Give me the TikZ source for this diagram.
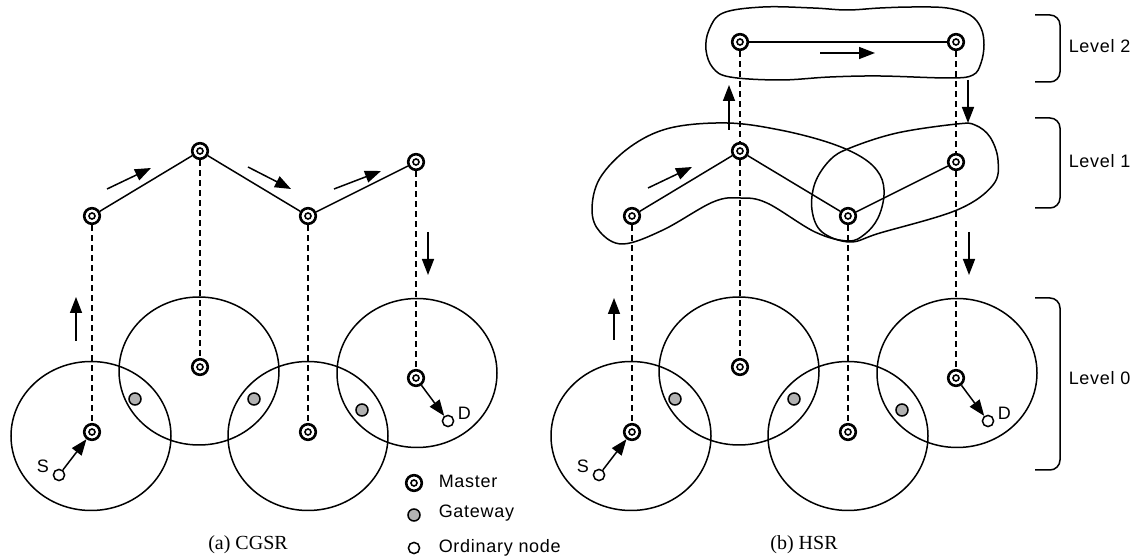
\documentclass[tikz,border=0pt]{standalone}
\usepackage{fontspec}
\setmainfont{Liberation Serif}
\newfontfamily\gulim[LetterSpace=4]{Liberation Sans}
\usetikzlibrary{arrows.meta}

\begin{document}
\begin{tikzpicture}[x={(0.5pt,0pt)}, y={(0pt,-0.5pt)}, >={Triangle[length=8pt,width=6pt]}, line width=0.75pt]
 \tikzstyle{master} = [circle,draw,fill=white,line width=1.3pt,inner sep=0,minimum size=7.8pt,
   path picture={\draw[line width=0.8pt] (path picture bounding box.center) circle (1.5pt);}]
 \tikzstyle{gateway} = [circle,draw,fill=black!30,inner sep=0,minimum size=6pt]
 \tikzstyle{ordinary} = [circle,draw,fill=white,inner sep=0,minimum size=5.6pt]
 \tikzstyle{vlink} = [dash pattern=on 3pt off 2pt]
 \tikzstyle{flow} = [->]
 \tikzstyle{lbl} = [font=\gulim\fontsize{9}{11}\selectfont,inner sep=0,anchor=base west]
 \tikzstyle{caption} = [font=\fontsize{10}{12}\selectfont,inner sep=0,anchor=base]
 \tikzstyle{brace} = [rounded corners=5pt]
 \newcommand{\hsrx}{540}

 \useasboundingbox (0,0) rectangle (1141,560);

% Clusters, CGSR
 \draw (91,436) ellipse [x radius=80, y radius=74.5];
 \draw (199,371) ellipse [x radius=80, y radius=74];
 \draw (308,436) ellipse [x radius=80, y radius=74.5];
 \draw (417,373) ellipse [x radius=80, y radius=74.5];
% Clusters, HSR
 \draw (\hsrx+91,436) ellipse [x radius=80, y radius=74.5];
 \draw (\hsrx+199,371) ellipse [x radius=80, y radius=74];
 \draw (\hsrx+308,436) ellipse [x radius=80, y radius=74.5];
 \draw (\hsrx+417,373) ellipse [x radius=80, y radius=74.5];

% Level 2 and level 1 groups
 \draw plot[smooth cycle,tension=0.6] coordinates {(706,50) (709,30) (723,13) (763,7) (813,8) (847,10)
   (880,8) (913,7) (947,8) (970,15) (981,28) (984,45) (981,63) (973,75) (950,78) (880,76) (830,77)
   (780,80) (730,77) (713,68)};
 \draw plot[smooth cycle,tension=0.6] coordinates {(670,128) (727,123) (780,130) (830,143) (863,158)
   (880,175) (884,195) (878,218) (865,234) (848,241) (815,232) (767,203) (740,198) (713,202)
   (663,230) (623,244) (600,232) (592,210) (600,178) (630,147)};
 \draw plot[smooth cycle,tension=0.6] coordinates {(830,160) (850,148) (897,133) (957,124) (975,125)
   (990,137) (998,160) (993,185) (957,210) (880,233) (850,242) (822,232) (812,210) (815,183)};

% CGSR nodes
 \node[master] (ca1) at (92,216) {};
 \node[master] (ca2) at (200,151) {};
 \node[master] (ca3) at (308,216) {};
 \node[master] (ca4) at (416,162) {};
 \node[master] (cb1) at (92,432) {};
 \node[master] (cb2) at (200,367) {};
 \node[master] (cb3) at (308,432) {};
 \node[master] (cb4) at (416,378) {};
 \node[gateway] (cg1) at (135,399) {};
 \node[gateway] (cg2) at (254,399) {};
 \node[gateway] (cg3) at (362,410) {};
 \node[ordinary] (cs) at (59,475) {};
 \node[ordinary] (cd) at (448,421) {};
 \node[lbl] (csl) at (36,473) {S};
 \node[lbl] (cdl) at (457,420) {D};

% HSR nodes
 \node[master] (h2a) at (\hsrx+200,42) {};
 \node[master] (h2b) at (\hsrx+416,42) {};
 \node[master] (h1a) at (\hsrx+92,216) {};
 \node[master] (h1b) at (\hsrx+200,151) {};
 \node[master] (h1c) at (\hsrx+308,216) {};
 \node[master] (h1d) at (\hsrx+416,162) {};
 \node[master] (h0a) at (\hsrx+92,432) {};
 \node[master] (h0b) at (\hsrx+200,367) {};
 \node[master] (h0c) at (\hsrx+308,432) {};
 \node[master] (h0d) at (\hsrx+416,378) {};
 \node[gateway] (hg1) at (\hsrx+135,399) {};
 \node[gateway] (hg2) at (\hsrx+254,399) {};
 \node[gateway] (hg3) at (\hsrx+362,410) {};
 \node[ordinary] (hs) at (\hsrx+59,475) {};
 \node[ordinary] (hd) at (\hsrx+448,421) {};
 \node[lbl] (hsl) at (\hsrx+36,473) {S};
 \node[lbl] (hdl) at (\hsrx+457,420) {D};

% Links
 \draw (ca1) -- (ca2) -- (ca3) -- (ca4);
 \draw[vlink] (ca1) -- (cb1);
 \draw[vlink] (ca2) -- (cb2);
 \draw[vlink] (ca3) -- (cb3);
 \draw[vlink] (ca4) -- (cb4);
 \draw[flow] (cs) -- (cb1);
 \draw[flow] (cb4) -- (cd);

 \draw (h2a) -- (h2b);
 \draw (h1a) -- (h1b) -- (h1c) -- (h1d);
 \draw[vlink] (h2a) -- (h1b);
 \draw[vlink] (h2b) -- (h1d);
 \draw[vlink] (h1a) -- (h0a);
 \draw[vlink] (h1b) -- (h0b);
 \draw[vlink] (h1c) -- (h0c);
 \draw[vlink] (h1d) -- (h0d);
 \draw[flow] (hs) -- (h0a);
 \draw[flow] (h0d) -- (hd);

% Route direction
 \draw[flow] (107,189) -- (151,168);
 \draw[flow] (248,167) -- (291,189);
 \draw[flow] (334,189) -- (381,171);
 \draw[flow] (428,232) -- (428,275);
 \draw[flow] (76,341) -- (76,297);

 \draw[flow] (614,340) -- (614,298);
 \draw[flow] (648,188) -- (692,167);
 \draw[flow] (729,130) -- (729,85);
 \draw[flow] (820,53) -- (875,53);
 \draw[flow] (968,80) -- (968,123);
 \draw[flow] (969,232) -- (969,275);

% Levels
 \draw[brace] (1035,15) -- (1060,15) -- (1060,82) -- (1035,82);
 \draw[brace] (1035,118) -- (1060,118) -- (1060,208) -- (1035,208);
 \draw[brace] (1035,298) -- (1060,298) -- (1060,470) -- (1035,470);
 \node[lbl] (lv2) at (1068,53) {Level 2};
 \node[lbl] (lv1) at (1068,168) {Level 1};
 \node[lbl] (lv0) at (1068,385) {Level 0};

% Legend
 \node[master] (km) at (414,483) {};
 \node[gateway] (kg) at (414,515) {};
 \node[ordinary] (ko) at (414,548) {};
 \node[lbl] (kmt) at (438,488) {Master};
 \node[lbl] (kgt) at (438,518) {Gateway};
 \node[lbl] (kot) at (438,553) {Ordinary node};

 \node[caption] (capa) at (248,550) {(a) CGSR};
 \node[caption] (capb) at (804,550) {(b) HSR};

\end{tikzpicture}
\end{document}
